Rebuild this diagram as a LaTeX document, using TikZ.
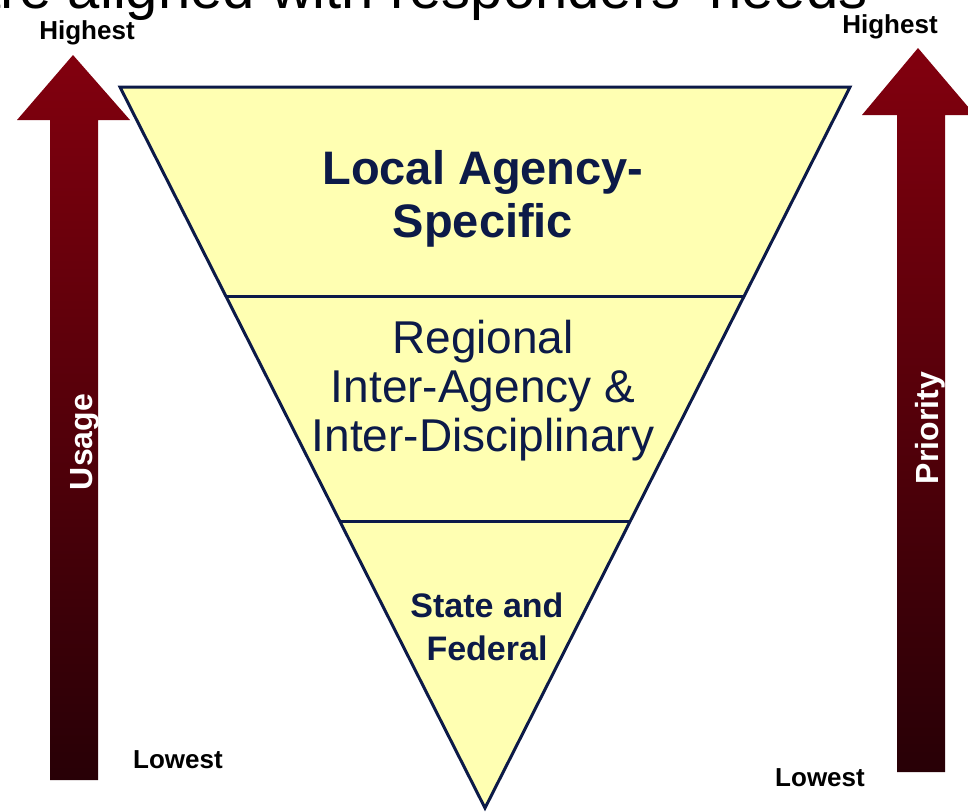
\documentclass[tikz,border=0pt]{standalone}
\usepackage{fontspec}
\setmainfont{Liberation Sans}
\usetikzlibrary{calc}
\definecolor{navy}{RGB}{12,26,72}
\definecolor{paleyellow}{RGB}{255,255,178}
\definecolor{arrowtop}{RGB}{130,0,14}
\definecolor{arrowbot}{RGB}{40,0,6}
\tikzstyle{tier} = [
	text=navy,
	align=center,
	inner sep=0pt
]
\tikzstyle{rank} = [
	font=\bfseries\fontsize{13}{14}\selectfont,
	inner sep=0pt
]
\tikzstyle{axisname} = [
	text=white,
	font=\bfseries\fontsize{16}{17}\selectfont,
	rotate=90,
	inner sep=0pt
]
\tikzstyle{bar} = [top color=arrowtop, bottom color=arrowbot]

\begin{document}
\begin{tikzpicture}[x=0.5pt, y=-0.5pt]
	\useasboundingbox (0,0) rectangle (968,811);
	\clip (0,0) rectangle (968,811);

	% cut-off heading
	\node[anchor=base east, inner sep=0pt, font=\fontsize{29}{30}\selectfont, name=heading] at (868,8) {are aligned with responders' needs};

	% the two arrows
	\shade[bar] (50,780) -- (50,120) -- (17,120) -- (73,55) -- (130,120) -- (98,120) -- (98,780) -- cycle;
	\shade[bar] (897,772) -- (897,115) -- (862,115) -- (918,48) -- (975,115) -- (945,115) -- (945,772) -- cycle;

	% triangle
	\coordinate (tl) at (120,87);
	\coordinate (tr) at (850,87);
	\coordinate (tip) at (485,808);
	\filldraw[fill=paleyellow, draw=navy, line width=1.5pt, line join=miter] (tl) -- (tr) -- (tip) -- cycle;
	\draw[navy, line width=1.5pt] ($(tl)!0.291!(tip)$) -- ($(tr)!0.291!(tip)$);
	\draw[navy, line width=1.5pt] ($(tl)!0.602!(tip)$) -- ($(tr)!0.602!(tip)$);

	\node[tier, font=\bfseries\fontsize{23.5}{26.5}\selectfont, name=local] at (483,199) {Local Agency-\\Specific};
	\node[tier, font=\fontsize{23}{24.5}\selectfont, name=regional] at (483,391) {Regional\\Inter-Agency \&\\Inter-Disciplinary};
	\node[tier, font=\bfseries\fontsize{17}{21.5}\selectfont, name=state] at (487,627) {State and\\Federal};

	\node[rank, name=usehigh] at (87,33) {Highest};
	\node[rank, name=uselow] at (178,760) {Lowest};
	\node[rank, name=prihigh] at (890,27) {Highest};
	\node[rank, name=prilow] at (820,778) {Lowest};

	\node[axisname, name=usage] at (85,442) {Usage};
	\node[axisname, name=priority] at (930,428) {Priority};
\end{tikzpicture}
\end{document}
